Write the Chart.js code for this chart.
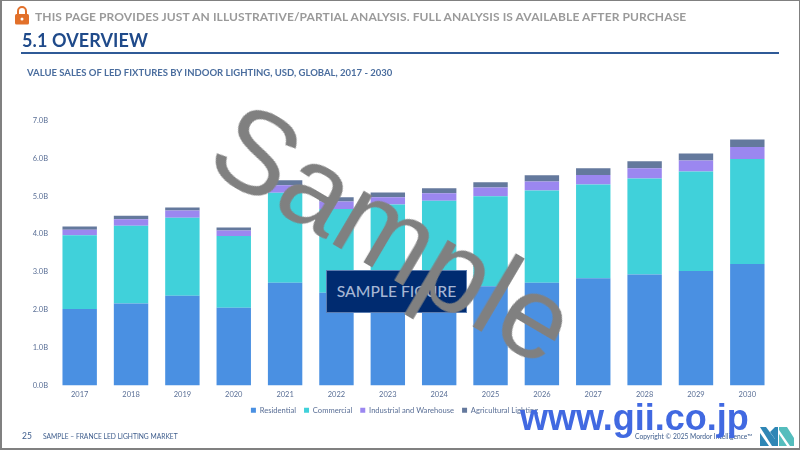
<!DOCTYPE html>
<html><head><meta charset="utf-8">
<script src="https://cdn.jsdelivr.net/npm/chart.js@4"></script>
<style>
html,body{margin:0;padding:0;background:#fff;overflow:hidden}
#page{position:relative;width:800px;height:450px;overflow:hidden;font-family:Lato,sans-serif}
#chartWrap{position:absolute;left:0;top:0;width:800px;height:450px}
.t{position:absolute;white-space:nowrap;line-height:1}
#frame{position:absolute;left:0;top:0;width:797px;height:447px;border:solid #808080;border-width:1px 1px 2px 2px}
</style></head><body>
<div id="page">
<div id="chartWrap"><canvas id="c" width="800" height="450"></canvas></div>
<svg class="t" style="left:14px;top:5px" width="16" height="20" viewBox="0 0 16 20"><path d="M4 9V6a4 4 0 0 1 8 0v3" fill="none" stroke="#E2702A" stroke-width="2"/><rect x="1" y="9" width="14" height="10.5" rx="1.5" fill="#E2702A"/><circle cx="8" cy="14" r="1.5" fill="#fff"/></svg>
<div class="t" style="left:35px;top:11px;font-size:12px;font-weight:700;color:#9a9a9a;letter-spacing:.11px">THIS PAGE PROVIDES JUST AN ILLUSTRATIVE/PARTIAL ANALYSIS. FULL ANALYSIS IS AVAILABLE AFTER PURCHASE</div>
<div class="t" style="left:22px;top:31px;font-size:18px;font-weight:700;color:#1F4A8A;letter-spacing:.1px">5.1 OVERVIEW</div>
<div style="position:absolute;left:21px;top:52px;width:758px;height:2px;background:#2F5A97"></div>
<div class="t" style="left:27px;top:68px;font-size:9.5px;color:#4A6D9E;font-weight:700">VALUE SALES OF LED FIXTURES BY INDOOR LIGHTING, USD, GLOBAL, 2017 - 2030</div>
<div class="t" style="left:22px;top:432px;font-size:8.5px;color:#3D5C8C">25</div>
<div class="t" style="left:43px;top:433px;font-size:6.7px;color:#3D5C8C">SAMPLE – FRANCE LED LIGHTING MARKET</div>
<div class="t" style="left:635px;top:433px;font-size:6.7px;color:#3D5C8C">Copyright © 2025 Mordor Intelligence™</div>
<svg class="t" style="left:760px;top:427px" width="34" height="19" viewBox="0 0 34 19"><path d="M0 0H6L15 12V19H12Z" fill="#2E86B5"/><path d="M0 6L9 19H0Z" fill="#2E86B5"/><path d="M15 0H18V19H15V12L10 5Z" fill="#2E86B5"/><path d="M19 0H27L34 11V0H34V19H30L19 3Z" fill="#55BDBD"/><path d="M19 7L27 19H19Z" fill="#55BDBD"/></svg>
<div class="t" style="left:326px;top:270px;width:139px;height:41px;background:#002B70;border:1px solid #5c7db0;color:#A6B6D4;font-size:15.7px;line-height:41px;text-align:center;font-weight:500">SAMPLE FIGURE</div>
<div class="t" style="left:223px;top:74px;font-family:'Liberation Sans',sans-serif;font-size:117px;color:#808080;transform-origin:0 50%;transform:rotate(30.5deg)">Sample</div>
<div class="t" style="left:520px;top:399.5px;font-family:'Liberation Sans',sans-serif;font-size:36px;font-weight:700;color:#4169E1">www.gii.co.jp</div>
<div id="frame"></div>
</div>
<script>
const categories=['2017','2018','2019','2020','2021','2022','2023','2024','2025','2026','2027','2028','2029','2030'];
const residential=[2.02,2.165,2.37,2.05,2.71,2.45,2.52,2.57,2.62,2.71,2.83,2.93,3.02,3.21];
const commercial=[1.95,2.055,2.06,1.90,2.38,2.21,2.26,2.31,2.38,2.44,2.48,2.54,2.63,2.77];
const industrial=[0.14,0.17,0.19,0.14,0.20,0.20,0.19,0.20,0.23,0.24,0.25,0.27,0.29,0.32];
const agricultural=[0.09,0.09,0.08,0.085,0.13,0.11,0.13,0.13,0.14,0.16,0.18,0.18,0.19,0.20];
const tickColor='#5A6F96';
function ds(label,data,color){return {label,data,backgroundColor:color,borderWidth:0,barPercentage:0.67,categoryPercentage:1,stack:'s'};}
new Chart(document.getElementById('c'),{
 type:'bar',
 data:{labels:categories,datasets:[
  ds('Residential',residential,'#4A90E2'),
  ds('Commercial',commercial,'#40D1DA'),
  ds('Industrial and Warehouse',industrial,'#9B87F0'),
  ds('Agricultural Lighting',agricultural,'#64799D')]},
 options:{responsive:false,animation:false,
  layout:{padding:{top:120.5,right:27,left:16,bottom:26}},
  plugins:{tooltip:{enabled:false},title:{display:false},
   legend:{position:'bottom',labels:{boxWidth:5,boxHeight:5,padding:8,color:tickColor,font:{family:'Lato',size:7.6}}}},
  scales:{
   x:{stacked:true,grid:{display:false,drawTicks:false},border:{display:false},
      afterFit(s){s.height=13;},
      ticks:{color:tickColor,maxRotation:0,font:{family:'Lato',size:7.5},padding:5}},
   y:{stacked:true,min:0,max:7,grid:{display:false,drawTicks:false},border:{display:false},
      afterFit(s){s.width=38;},
      ticks:{stepSize:1,color:tickColor,padding:6,font:{family:'Lato',size:7.5},callback:v=>v.toFixed(1)+'B'}}
  }}
});
</script>
</body></html>
